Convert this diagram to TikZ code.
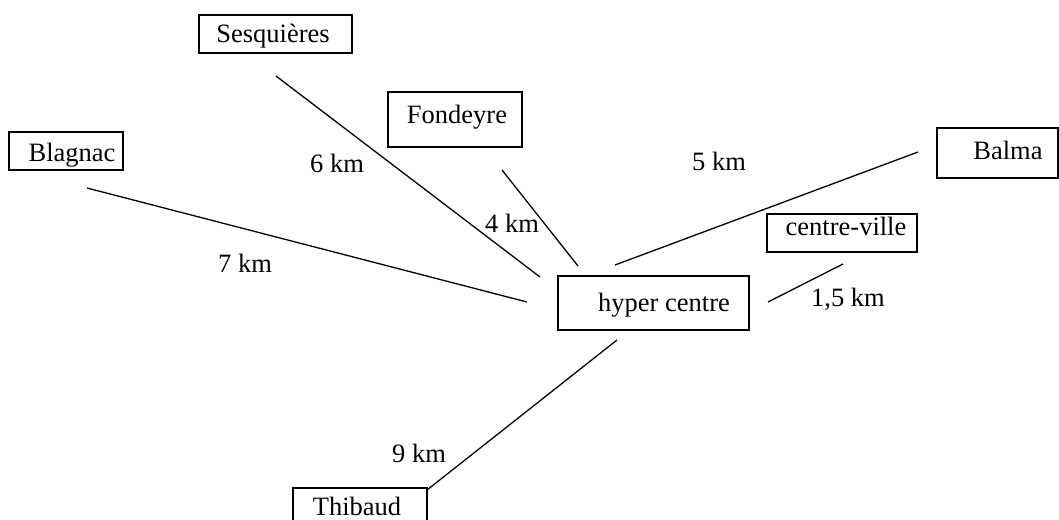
\documentclass[tikz,border=0pt]{standalone}
\usepackage{fontspec}
\setmainfont{Liberation Serif}
\begin{document}
\begin{tikzpicture}[x=1pt,y=-1pt,
  box/.style={draw,line width=1.3pt,inner sep=0pt},
  txt/.style={anchor=base,inner sep=0pt,font=\fontsize{26.5}{30}\selectfont},
  link/.style={line width=1.3pt}]
\useasboundingbox (0,0) rectangle (1059,519);
\clip (0,0) rectangle (1059,519);
% boxes
\node[box,minimum width=153pt,minimum height=38pt] (ses) at (275.5,34) {};
\node[box,minimum width=114pt,minimum height=38pt] (blag) at (66,151) {};
\node[box,minimum width=134pt,minimum height=55pt] (fond) at (455,119.5) {};
\node[box,minimum width=121pt,minimum height=50pt] (balma) at (997.5,153) {};
\node[box,minimum width=191pt,minimum height=54pt] (hyper) at (653.5,303) {};
\node[box,minimum width=150pt,minimum height=38pt] (cv) at (842,233) {};
\node[box,minimum width=134pt,minimum height=50pt] (thib) at (360,513) {};
% box texts
\node[txt] (tses) at (273,43) {Sesquières};
\node[txt] (tblag) at (72,161) {Blagnac};
\node[txt] (tfond) at (457,123) {Fondeyre};
\node[txt] (tbalma) at (1008,159) {Balma};
\node[txt] (thyper) at (664,311) {hyper centre};
\node[txt] (tcv) at (846,235) {centre-ville};
\node[txt] (tthib) at (357,515) {Thibaud};
% connector end points
\coordinate (s1) at (276,76);  \coordinate (s2) at (540,277);
\coordinate (b1) at (87,188);  \coordinate (b2) at (527,302);
\coordinate (f1) at (502,170); \coordinate (f2) at (578,266);
\coordinate (m1) at (918,152); \coordinate (m2) at (615,265);
\coordinate (c1) at (843,264); \coordinate (c2) at (768,302);
\coordinate (t1) at (617,340); \coordinate (t2) at (427,490);
\draw[link] (s1) -- (s2);
\draw[link] (b1) -- (b2);
\draw[link] (f1) -- (f2);
\draw[link] (m1) -- (m2);
\draw[link] (c1) -- (c2);
\draw[link] (t1) -- (t2);
% distance labels
\node[txt] (l6) at (337,172) {6 km};
\node[txt] (l4) at (512,232) {4 km};
\node[txt] (l5) at (719,170) {5 km};
\node[txt] (l7) at (245,272) {7 km};
\node[txt] (l15) at (848,306) {1,5 km};
\node[txt] (l9) at (419,462) {9 km};
\end{tikzpicture}
\end{document}
